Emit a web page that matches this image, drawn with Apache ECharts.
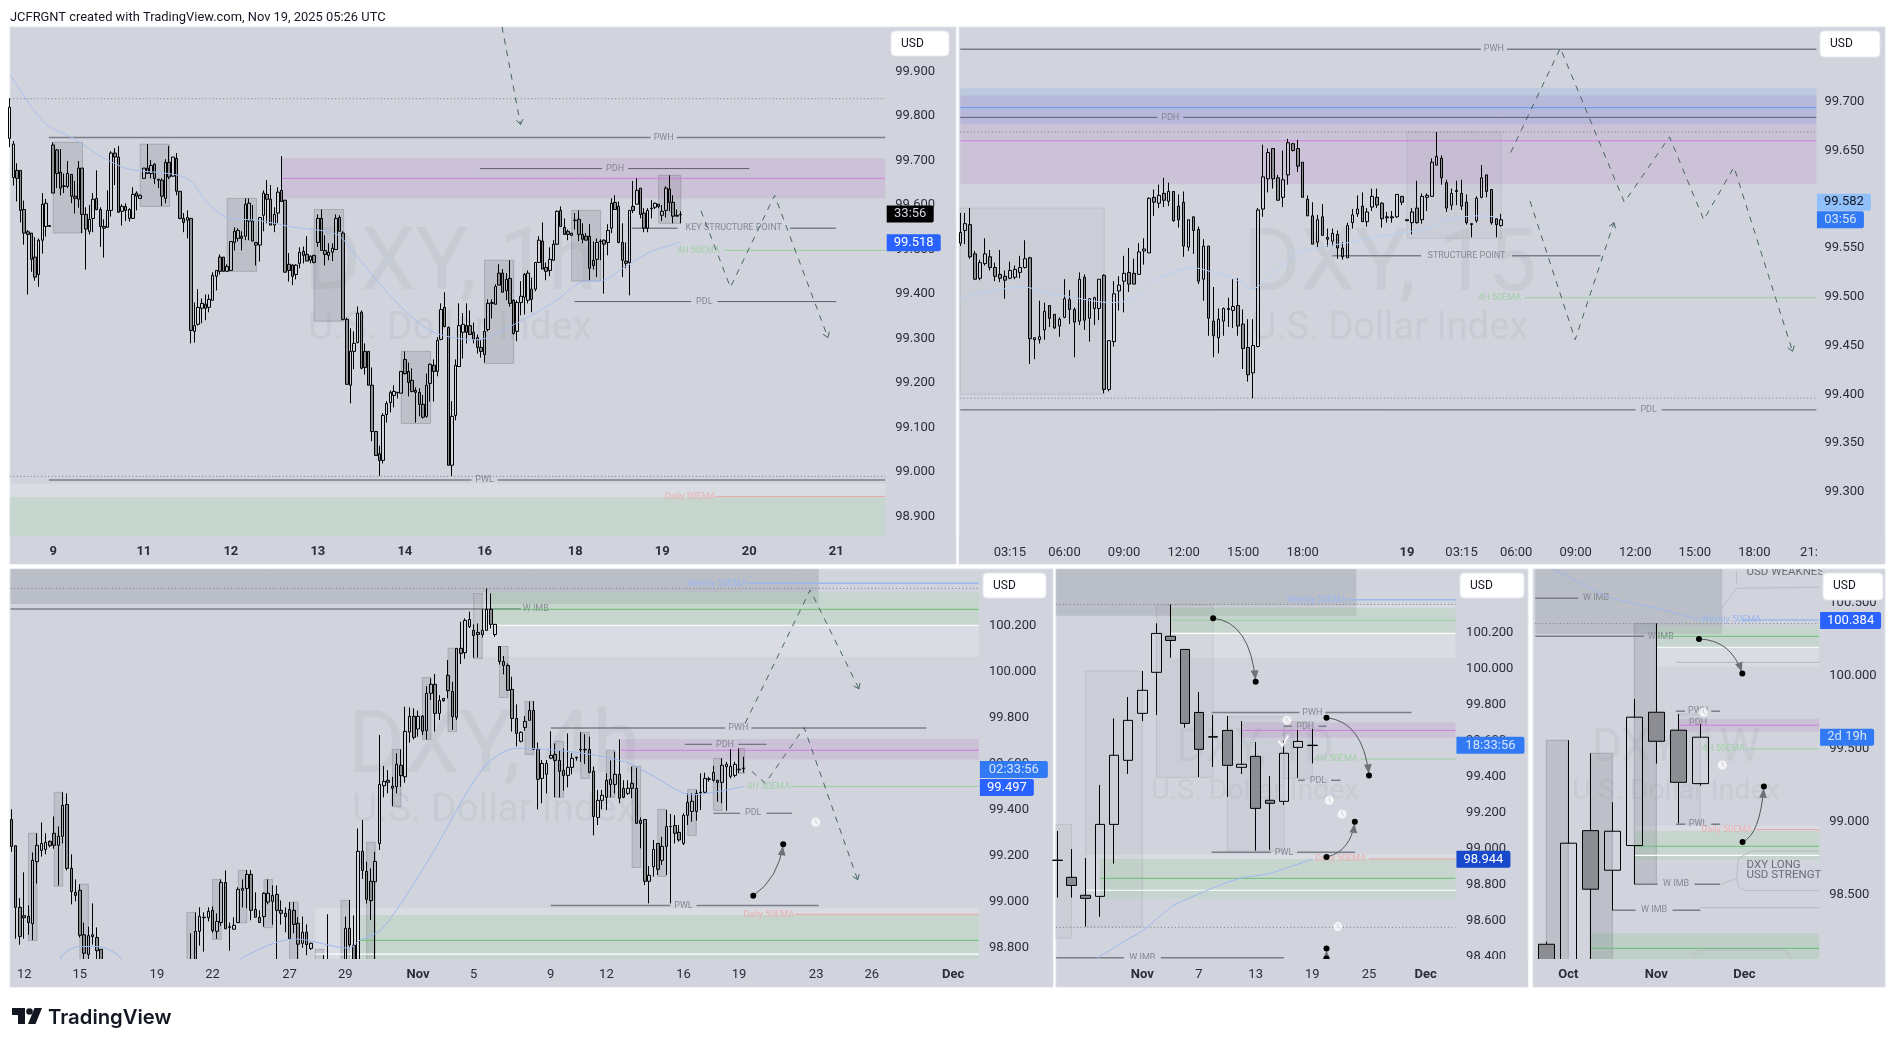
<!DOCTYPE html>
<html>
<head>
<meta charset="utf-8">
<style>html,body{margin:0;padding:0;background:#fff}#main{width:1897px;height:1047px}</style>
<script src="https://cdn.jsdelivr.net/npm/echarts@6/dist/echarts.min.js"></script>
</head>
<body>
<div id="main"></div>
<script>
// candle rows are [open, close, low, high]
const h1Bars = [[99.75,99.82,99.73,99.84],[99.662,99.737,99.644,99.744],[99.678,99.660,99.608,99.694],[99.678,99.588,99.561,99.678],[99.590,99.537,99.511,99.610],[99.540,99.534,99.399,99.544],[99.537,99.478,99.450,99.537],[99.483,99.438,99.430,99.528],[99.444,99.521,99.416,99.525],[99.521,99.602,99.491,99.627],[99.552,99.604,99.529,99.614],[99.554,99.552,99.552,99.554],[99.735,99.627,99.627,99.741],[99.724,99.671,99.638,99.726],[99.674,99.638,99.622,99.726],[99.643,99.642,99.627,99.671],[99.642,99.671,99.638,99.699],[99.669,99.620,99.604,99.669],[99.620,99.615,99.581,99.654],[99.613,99.683,99.594,99.699],[99.683,99.579,99.537,99.683],[99.579,99.546,99.455,99.595],[99.541,99.568,99.534,99.600],[99.570,99.613,99.539,99.627],[99.615,99.590,99.588,99.678],[99.590,99.552,99.506,99.595],[99.552,99.548,99.482,99.568],[99.550,99.588,99.550,99.633],[99.588,99.717,99.574,99.721],[99.717,99.708,99.645,99.728],[99.708,99.584,99.582,99.733],[99.586,99.597,99.554,99.602],[99.597,99.588,99.564,99.604],[99.570,99.590,99.563,99.593],[99.570,99.624,99.570,99.640],[99.627,99.620,99.588,99.631],[99.615,99.622,99.615,99.624],[99.660,99.683,99.660,99.683],[99.683,99.671,99.671,99.737],[99.671,99.689,99.660,99.701],[99.692,99.660,99.647,99.694],[99.658,99.656,99.638,99.658],[99.656,99.620,99.598,99.660],[99.615,99.696,99.604,99.703],[99.696,99.663,99.658,99.733],[99.665,99.708,99.663,99.708],[99.705,99.631,99.622,99.717],[99.631,99.570,99.568,99.631],[99.570,99.561,99.539,99.582],[99.566,99.572,99.525,99.588],[99.570,99.318,99.289,99.570],[99.316,99.329,99.291,99.381],[99.332,99.370,99.329,99.411],[99.368,99.379,99.334,99.390],[99.377,99.368,99.341,99.399],[99.370,99.388,99.359,99.399],[99.386,99.442,99.386,99.449],[99.440,99.453,99.408,99.453],[99.483,99.451,99.444,99.489],[99.483,99.451,99.451,99.483],[99.451,99.462,99.451,99.467],[99.453,99.518,99.453,99.518],[99.516,99.541,99.498,99.550],[99.525,99.543,99.518,99.548],[99.530,99.525,99.498,99.541],[99.530,99.602,99.521,99.615],[99.564,99.604,99.521,99.615],[99.564,99.519,99.519,99.600],[99.516,99.510,99.464,99.516],[99.510,99.572,99.473,99.572],[99.577,99.627,99.541,99.633],[99.624,99.613,99.559,99.656],[99.613,99.555,99.555,99.645],[99.555,99.579,99.539,99.595],[99.582,99.629,99.559,99.640],[99.633,99.608,99.608,99.710],[99.611,99.449,99.449,99.611],[99.467,99.453,99.428,99.492],[99.465,99.440,99.420,99.467],[99.444,99.465,99.433,99.467],[99.469,99.494,99.458,99.505],[99.496,99.487,99.469,99.507],[99.489,99.474,99.474,99.530],[99.476,99.485,99.469,99.487],[99.487,99.471,99.469,99.487],[99.516,99.570,99.506,99.579],[99.570,99.498,99.498,99.590],[99.498,99.489,99.464,99.532],[99.487,99.494,99.476,99.514],[99.494,99.503,99.474,99.514],[99.500,99.570,99.500,99.579],[99.572,99.541,99.541,99.577],[99.537,99.343,99.341,99.541],[99.343,99.197,99.197,99.347],[99.195,99.271,99.154,99.323],[99.271,99.289,99.231,99.316],[99.291,99.357,99.289,99.372],[99.359,99.233,99.231,99.363],[99.271,99.235,99.219,99.289],[99.271,99.195,99.195,99.271],[99.195,99.091,99.069,99.235],[99.091,99.037,99.037,99.091],[99.041,99.026,98.991,99.059],[99.026,99.127,99.019,99.132],[99.129,99.154,99.111,99.159],[99.156,99.179,99.134,99.183],[99.172,99.181,99.145,99.195],[99.179,99.178,99.165,99.179],[99.177,99.226,99.177,99.226],[99.253,99.221,99.219,99.271],[99.226,99.201,99.170,99.246],[99.206,99.181,99.179,99.233],[99.183,99.179,99.111,99.190],[99.179,99.152,99.125,99.188],[99.152,99.123,99.120,99.173],[99.125,99.195,99.122,99.221],[99.199,99.242,99.158,99.244],[99.240,99.226,99.158,99.253],[99.226,99.296,99.215,99.303],[99.298,99.365,99.296,99.379],[99.370,99.327,99.325,99.404],[99.325,99.015,99.015,99.327],[99.015,99.125,98.991,99.159],[99.127,99.240,99.116,99.253],[99.237,99.329,99.237,99.379],[99.314,99.332,99.255,99.357],[99.329,99.314,99.289,99.379],[99.329,99.309,99.309,99.363],[99.314,99.298,99.289,99.336],[99.302,99.280,99.266,99.309],[99.280,99.271,99.257,99.296],[99.264,99.316,99.246,99.345],[99.320,99.379,99.316,99.388],[99.381,99.379,99.345,99.388],[99.377,99.417,99.377,99.422],[99.447,99.420,99.420,99.467],[99.447,99.404,99.404,99.456],[99.408,99.433,99.386,99.447],[99.435,99.379,99.372,99.476],[99.386,99.311,99.309,99.388],[99.316,99.381,99.294,99.386],[99.381,99.395,99.352,99.429],[99.393,99.444,99.354,99.447],[99.386,99.447,99.379,99.453],[99.411,99.388,99.359,99.437],[99.411,99.471,99.406,99.471],[99.471,99.521,99.471,99.530],[99.519,99.456,99.456,99.561],[99.460,99.451,99.431,99.471],[99.453,99.478,99.440,99.505],[99.476,99.512,99.474,99.521],[99.512,99.586,99.510,99.588],[99.588,99.552,99.552,99.597],[99.550,99.534,99.534,99.570],[99.541,99.534,99.521,99.545],[99.532,99.537,99.530,99.537],[99.566,99.565,99.545,99.582],[99.568,99.534,99.519,99.588],[99.534,99.523,99.514,99.559],[99.530,99.521,99.521,99.537],[99.530,99.458,99.431,99.557],[99.476,99.464,99.455,99.518],[99.478,99.516,99.438,99.525],[99.519,99.518,99.476,99.523],[99.521,99.512,99.401,99.523],[99.516,99.543,99.487,99.557],[99.548,99.604,99.537,99.615],[99.606,99.590,99.590,99.622],[99.597,99.516,99.514,99.608],[99.516,99.476,99.438,99.559],[99.474,99.469,99.458,99.516],[99.471,99.588,99.397,99.588],[99.597,99.588,99.582,99.654],[99.602,99.633,99.602,99.660],[99.638,99.579,99.570,99.638],[99.582,99.548,99.539,99.593],[99.548,99.588,99.539,99.593],[99.593,99.592,99.570,99.611],[99.595,99.604,99.591,99.606],[99.602,99.597,99.593,99.602],[99.577,99.586,99.564,99.600],[99.588,99.638,99.572,99.642],[99.636,99.606,99.586,99.667],[99.606,99.575,99.559,99.622],[99.577,99.575,99.575,99.590],[99.579,99.578,99.559,99.586]];
const h1Ema = [[0.2,99.893],[7.5,99.804],[10.8,99.777],[17.6,99.750],[25.2,99.709],[32.8,99.681],[44.6,99.670],[49.7,99.656],[54.7,99.603],[60.7,99.570],[68.3,99.566],[78.4,99.550],[90.2,99.534],[95.3,99.489],[102.9,99.415],[109.6,99.358],[117.2,99.313],[129,99.297],[137.5,99.325],[144.3,99.354],[151,99.387],[157.8,99.427],[163.7,99.431],[169.6,99.460],[176.3,99.493],[185.1,99.517]];
const h1Zones = [[75,null,99.705,99.615,'purple'],[null,null,98.974,98.856,'light'],[null,null,98.943,98.856,'green'],[12,20.1,99.741,99.537,'box'],[36,44.1,99.737,99.597,'box'],[60,68.1,99.615,99.451,'box'],[84,92.1,99.590,99.339,'box'],[108,116.1,99.271,99.109,'box'],[131,139,99.476,99.244,'box'],[155,163,99.588,99.429,'box'],[179,185.1,99.667,99.559,'box']];
const h1Lines = [[null,null,99.839,'dotted'],[10.8,null,99.752,'grey','PWH',180.4],[75,null,99.660,'magenta'],[129.7,204,99.682,'dark','PDH',167],[171.6,227.9,99.548,'grey','KEY STRUCTURE POINT',199.7],[197,null,99.498,'green','4H 50EMA',190],[155.8,228,99.383,'dark','PDL',191.6],[null,null,98.990,'dotted'],[10.8,null,98.982,'grey','PWL',131],[195,null,98.945,'red','Daily 50EMA',187.7]];
const h1Paths = [[[135.8,100.001],[140.9,99.781]],[[190.7,99.587],[198.8,99.415],[211,99.622],[225.7,99.302]]];
const h1Tags = [[99.580,'33:56','black'],[99.515,'99.518','blue']];
const h1PriceTicks = [99.9,99.8,99.7,99.6,99.5,99.4,99.3,99.2,99.1,99.0,98.9];
const h1TimeIdx = [12,37,61,85,109,131,156,180,204,228];
const h1TimeText = ['9','11','12','13','14','16','18','19','20','21'];

const m15Bars = [[99.555,99.566,99.552,99.586],[99.568,99.575,99.554,99.586],[99.574,99.541,99.539,99.591],[99.544,99.518,99.518,99.547],[99.519,99.535,99.517,99.538],[99.534,99.544,99.532,99.560],[99.541,99.530,99.527,99.548],[99.530,99.521,99.516,99.535],[99.523,99.519,99.515,99.548],[99.521,99.517,99.498,99.527],[99.519,99.527,99.518,99.536],[99.520,99.528,99.518,99.532],[99.525,99.530,99.519,99.542],[99.530,99.539,99.529,99.558],[99.540,99.457,99.431,99.541],[99.456,99.458,99.436,99.458],[99.456,99.459,99.452,99.496],[99.466,99.485,99.456,99.494],[99.491,99.478,99.469,99.491],[99.482,99.468,99.467,99.482],[99.470,99.477,99.459,99.479],[99.479,99.498,99.478,99.518],[99.497,99.487,99.472,99.507],[99.487,99.474,99.438,99.489],[99.475,99.518,99.471,99.525],[99.520,99.476,99.466,99.523],[99.478,99.498,99.454,99.498],[99.488,99.499,99.471,99.500],[99.488,99.518,99.476,99.518],[99.522,99.405,99.401,99.523],[99.405,99.455,99.403,99.455],[99.454,99.503,99.449,99.516],[99.506,99.512,99.486,99.521],[99.516,99.524,99.484,99.542],[99.525,99.513,99.505,99.550],[99.524,99.513,99.513,99.539],[99.523,99.546,99.523,99.555],[99.547,99.549,99.533,99.560],[99.545,99.601,99.545,99.602],[99.602,99.597,99.583,99.610],[99.596,99.604,99.591,99.615],[99.606,99.599,99.592,99.622],[99.598,99.608,99.593,99.617],[99.608,99.578,99.577,99.608],[99.593,99.579,99.571,99.605],[99.597,99.552,99.541,99.608],[99.551,99.579,99.547,99.579],[99.582,99.568,99.544,99.582],[99.569,99.516,99.513,99.572],[99.518,99.552,99.496,99.559],[99.552,99.478,99.460,99.552],[99.475,99.460,99.438,99.510],[99.458,99.477,99.442,99.488],[99.475,99.488,99.460,99.489],[99.488,99.487,99.469,99.499],[99.486,99.490,99.468,99.518],[99.491,99.470,99.460,99.519],[99.472,99.447,99.426,99.487],[99.448,99.420,99.413,99.477],[99.422,99.450,99.396,99.477],[99.449,99.589,99.448,99.591],[99.590,99.623,99.582,99.656],[99.621,99.648,99.607,99.652],[99.652,99.621,99.611,99.652],[99.622,99.599,99.599,99.625],[99.602,99.620,99.592,99.650],[99.625,99.658,99.615,99.662],[99.657,99.650,99.649,99.658],[99.652,99.634,99.628,99.661],[99.638,99.602,99.602,99.638],[99.600,99.583,99.583,99.604],[99.583,99.554,99.554,99.597],[99.556,99.579,99.550,99.584],[99.582,99.563,99.563,99.595],[99.561,99.559,99.551,99.570],[99.557,99.565,99.552,99.570],[99.564,99.550,99.539,99.568],[99.550,99.541,99.538,99.556],[99.540,99.573,99.540,99.576],[99.576,99.584,99.570,99.590],[99.585,99.590,99.582,99.604],[99.593,99.577,99.577,99.607],[99.577,99.587,99.572,99.591],[99.592,99.603,99.588,99.611],[99.602,99.594,99.591,99.611],[99.596,99.580,99.571,99.597],[99.582,99.581,99.576,99.587],[99.582,99.581,99.576,99.588],[99.582,99.605,99.581,99.605],[99.603,99.597,99.594,99.603],[99.579,99.578,99.578,99.579],[99.576,99.587,99.564,99.591],[99.591,99.576,99.575,99.619],[99.579,99.603,99.575,99.606],[99.602,99.604,99.588,99.606],[99.603,99.638,99.603,99.642],[99.635,99.644,99.635,99.669],[99.642,99.622,99.615,99.645],[99.617,99.591,99.587,99.620],[99.594,99.606,99.589,99.611],[99.609,99.608,99.594,99.619],[99.606,99.593,99.589,99.620],[99.597,99.576,99.574,99.605],[99.575,99.574,99.561,99.575],[99.578,99.601,99.576,99.603],[99.602,99.622,99.601,99.635],[99.625,99.608,99.602,99.625],[99.610,99.576,99.574,99.610],[99.580,99.574,99.561,99.580],[99.573,99.579,99.572,99.585]];
const m15Ema = [[0,99.496],[2.6,99.502],[7.4,99.507],[12.8,99.510],[17.1,99.505],[23.1,99.499],[30.4,99.494],[35.2,99.499],[40.1,99.519],[46.7,99.530],[51,99.525],[55.8,99.517],[58.8,99.508],[61.9,99.519],[67.9,99.544],[71.5,99.550],[77.6,99.555],[83.6,99.561],[89.7,99.566],[94.5,99.571],[98.1,99.579],[104.2,99.583],[108.4,99.582]];
const m15Zones = [[null,null,99.714,99.677,'blue'],[null,null,99.7065,99.6154,'purple'],[null,29,99.591,99.400,'faint'],[90,109,99.669,99.560,'faint']];
const m15Lines = [[null,null,99.754,'grey','PWH',107.5],[null,null,99.694,'brightBlue'],[null,null,99.684,'dark','PDH',42.3],[null,null,99.669,'dotted'],[null,null,99.660,'magenta'],[75,129,99.542,'grey','STRUCTURE POINT',102],[113.6,null,99.499,'green','4H 50EMA',108.7],[null,null,99.396,'dotted'],[null,null,99.384,'dark','PDL',138.7]];
const m15Paths = [[[110.9,99.648],[120.9,99.755],[133.8,99.597],[142.9,99.664],[149.8,99.579],[155.9,99.633],[167.7,99.444]],[[114.8,99.598],[123.9,99.456],[131.7,99.576]]];
const m15Tags = [[99.597,'99.582','pale'],[99.579,'03:56','mid']];
const m15PriceTicks = [99.7,99.65,99.6,99.55,99.5,99.45,99.4,99.35,99.3];
const m15TimeIdx = [10,21,33,45,57,69,90,101,112,124,136,148,160,171];
const m15TimeText = ['03:15','06:00','09:00','12:00','15:00','18:00','19','03:15','06:00','09:00','12:00','15:00','18:00','21:'];

const h4Bars = [[99.358,99.241,99.218,99.402],[99.244,98.977,98.841,99.244],[98.977,98.851,98.815,99.017],[98.941,98.932,98.841,99.129],[98.938,98.911,98.858,98.986],[98.906,99.181,98.835,99.215],[99.175,99.246,99.080,99.298],[99.224,99.254,99.197,99.345],[99.228,99.259,99.207,99.298],[99.263,99.244,99.237,99.267],[99.298,99.246,99.231,99.371],[99.246,99.285,99.072,99.328],[99.285,99.419,99.254,99.476],[99.423,99.146,99.137,99.471],[99.146,99.046,98.990,99.207],[99.042,99.029,99.003,99.098],[99.051,98.856,98.846,99.077],[98.858,98.778,98.74,98.911],[98.773,98.854,98.74,98.893],[98.858,98.850,98.815,98.994],[98.846,98.789,98.74,98.890],[98.795,98.72,98.70,98.795],
null,null,null,null,null,null,null,null,null,null,null,null,null,null,null,null,null,null,null,null,
[98.72,98.70,98.68,98.864],[98.72,98.873,98.68,98.955],[98.873,98.938,98.811,98.977],[98.934,98.932,98.785,98.955],[98.932,98.960,98.916,98.977],[98.964,98.876,98.867,98.981],[98.873,98.916,98.841,98.951],[98.911,99.085,98.897,99.098],[99.085,98.884,98.884,99.137],[98.893,98.890,98.789,98.911],[98.882,98.899,98.882,98.934],[98.911,99.055,98.911,99.064],[99.051,99.059,98.977,99.098],[99.059,99.120,98.973,99.139],[99.120,98.964,98.921,99.139],[98.968,98.934,98.934,99.042],[98.934,98.911,98.911,98.964],[98.937,99.038,98.893,99.042],[99.000,99.038,98.990,99.098],[99.003,99.029,98.902,99.072],[99.033,98.964,98.72,99.072],[98.964,98.951,98.902,99.007],[98.951,98.937,98.869,98.977],[98.968,98.841,98.841,99.0],[98.964,98.903,98.864,99.0],[98.908,98.817,98.73,98.934],[98.821,98.869,98.801,98.937],[98.869,98.815,98.770,98.903],[98.799,98.821,98.792,98.824],
null,null,[98.72,98.70,98.68,98.770],[98.72,98.70,98.68,98.947],null,null,null,
[98.72,98.886,98.68,98.937],[98.886,98.814,98.806,99.009],[98.812,98.72,98.68,98.942],[98.72,99.220,98.68,99.319],
[99.220,99.137,99.100,99.356],[99.133,99.012,98.994,99.175],[99.090,99.006,98.922,99.146],[99.088,99.176,98.72,99.218],[99.254,99.510,99.226,99.724],[99.504,99.523,99.454,99.590],[99.528,99.519,99.471,99.572],[99.503,99.493,99.416,99.543],[99.500,99.598,99.471,99.645],[99.593,99.548,99.500,99.662],[99.543,99.740,99.517,99.847],[99.737,99.805,99.691,99.844],[99.805,99.714,99.705,99.840],[99.750,99.805,99.717,99.830],[99.806,99.741,99.724,99.811],[99.744,99.905,99.705,99.936],[99.905,99.944,99.876,99.970],[99.944,99.818,99.739,99.989],[99.818,99.874,99.789,99.897],[99.883,99.873,99.869,99.883],[99.983,99.916,99.883,100.049],[99.913,99.804,99.746,99.955],[99.801,100.100,99.789,100.100],[100.100,100.078,100.032,100.215],[100.081,100.221,100.055,100.230],[100.194,100.225,100.188,100.259],[100.178,100.156,100.059,100.204],[100.169,100.160,100.061,100.208],[100.160,100.178,100.147,100.270],[100.178,100.269,100.178,100.360],[100.269,100.204,100.186,100.338],[100.160,100.204,100.150,100.204],[100.108,100.043,100.030,100.108],[100.043,100.026,99.987,100.067],[100.026,99.918,99.918,100.035],[99.922,99.796,99.739,99.977],[99.796,99.731,99.675,99.857],[99.697,99.736,99.692,99.740],[99.757,99.783,99.743,99.806],[99.788,99.831,99.788,99.869],[99.831,99.662,99.662,99.871],[99.662,99.532,99.402,99.692],[99.536,99.601,99.428,99.616],[99.554,99.601,99.471,99.616],[99.624,99.636,99.619,99.740],[99.640,99.614,99.454,99.688],[99.614,99.567,99.454,99.659],[99.571,99.549,99.483,99.666],[99.549,99.584,99.497,99.731],[99.584,99.623,99.554,99.645],[99.628,99.625,99.613,99.630],[99.662,99.660,99.608,99.736],[99.662,99.660,99.598,99.728],[99.662,99.562,99.558,99.717],[99.567,99.371,99.289,99.588],[99.367,99.441,99.334,99.486],[99.441,99.463,99.402,99.486],[99.454,99.528,99.399,99.558],[99.510,99.532,99.454,99.614],[99.510,99.554,99.471,99.652],[99.554,99.450,99.428,99.705],[99.493,99.454,99.450,99.528],[99.471,99.493,99.464,99.528],[99.515,99.493,99.450,99.587],[99.493,99.341,99.341,99.584],[99.354,99.341,99.233,99.367],[99.358,99.090,99.074,99.358],[99.090,99.116,98.994,99.156],[99.153,99.228,99.110,99.269],[99.254,99.142,99.117,99.254],[99.181,99.241,99.161,99.283],[99.241,99.327,99.117,99.399],[99.328,99.327,98.994,99.382],[99.332,99.298,99.254,99.377],[99.302,99.269,99.262,99.334],[99.254,99.376,99.247,99.385],[99.376,99.432,99.334,99.471],[99.393,99.437,99.348,99.471],[99.393,99.471,99.353,99.486],[99.476,99.473,99.399,99.558],[99.476,99.536,99.471,99.561],[99.534,99.532,99.522,99.543],[99.528,99.562,99.522,99.590],[99.528,99.519,99.435,99.529],[99.519,99.593,99.428,99.623],[99.587,99.598,99.396,99.608],[99.545,99.588,99.536,99.662],[99.549,99.597,99.541,99.608],[99.576,99.574,99.558,99.666],[99.581,99.579,99.561,99.630]];
const h4Ema = [[11.5,98.70],[11.5,98.756],[15.9,98.807],[20.1,98.807],[25.6,98.756],[26,98.70],[53,98.70],[53.8,98.756],[66.3,98.840],[78.9,98.800],[81.2,98.832],[86.7,98.886],[97.7,99.19],[110.2,99.58],[118.1,99.667],[130.6,99.652],[143.2,99.609],[150.2,99.544],[158.9,99.465],[171,99.501]];
const h4Zones = [[null,188.6,100.444,100.292,'shade'],[108,null,100.343,100.064,'light'],[112,null,100.343,100.2,'green'],[142.4,null,99.707,99.618,'purple'],[71,null,98.973,98.70,'light'],[81.2,null,98.944,98.70,'green'],[4,6,99.298,98.833,'box'],[10,12,99.476,99.068,'box'],[16,18,99.077,98.70,'box'],[41,43,98.955,98.70,'box'],[47,49,99.098,98.838,'box'],[53,55,99.137,98.91,'box'],[59,61,99.098,98.889,'box'],[65,67,99.0,98.70,'box'],[71,73,98.795,98.70,'box'],[77,79,99.007,98.70,'box'],[83,85,99.259,98.70,'box'],[89,91,99.662,99.413,'box'],[96,98,99.974,99.705,'box'],[102,104,100.1,99.739,'box'],[108,110,100.338,100.056,'box'],[114,116,100.108,99.887,'box'],[120,122,99.87,99.64,'box'],[127,129,99.697,99.454,'box'],[133,135,99.736,99.536,'box'],[139,141,99.658,99.454,'box'],[145,147,99.588,99.15,'box'],[151,153,99.402,99.111,'box'],[158,160,99.489,99.289,'box'],[164,166,99.623,99.397,'box'],[170,171.3,99.666,99.558,'box']];
const h4Lines = [[172,null,100.382,'blue','Weekly 50EMA',164.8],[null,null,100.36,'dotted'],[null,119,100.271,'grey','W IMB',122.5],[112,null,100.269,'greenStrong'],[112,null,100.2,'white'],[126,213.7,99.755,'grey','PWH',169.8],[157.3,176.4,99.684,'dark','PDH',166.7],[142.4,null,99.658,'magenta'],[182,null,99.501,'green','4H 50EMA',176.9],[164,182.4,99.385,'dark','PDL',173.3],[126,188.6,98.985,'grey','PWL',157],[183,null,98.947,'red','Daily 50EMA',176.9],[81.2,null,98.834,'greenStrong'],[71,null,98.774,'white']];
const h4Paths = [[[171.4,99.775],[186.6,100.353],[198,99.924]],[[173,99.566],[176.1,99.515],[185.2,99.756],[197.7,99.096]]];
const h4Curves = [[173.3,99.027,179.2,99.103,180.3,99.251]];
const h4Clocks = [[187.9,99.346]];
const h4Tags = [[99.575,'02:33:56','mid'],[99.497,'99.497','blue']];
const h4PriceTicks = [100.2,100,99.8,99.6,99.4,99.2,99.0,98.8];
const h4TimeIdx = [3,16,34,47,65,78,95,108,126,139,157,170,188,201,220];
const h4TimeText = ['12','15','19','22','27','29','Nov','5','9','12','16','19','23','26','Dec'];

const d1Bars = [[98.936,98.935,98.728,99.098],[98.841,98.796,98.728,98.998],[98.741,98.724,98.567,98.948],[98.735,99.135,98.622,99.354],[99.135,99.519,98.917,99.724],[99.491,99.713,99.415,99.843],[99.752,99.880,99.709,99.987],[99.980,100.196,99.743,100.252],[100.180,100.157,100.061,100.357],[100.107,99.696,99.672,100.107],[99.757,99.552,99.398,99.870],[99.622,99.620,99.454,99.743],[99.657,99.463,99.287,99.737],[99.452,99.469,99.415,99.709],[99.513,99.224,98.989,99.593],[99.269,99.252,98.993,99.404],[99.263,99.530,99.243,99.598],[99.563,99.596,99.394,99.659],[99.575,99.573,99.474,99.665]];
const d1Ema = [[2.8,98.391],[4.9,98.493],[6.1,98.548],[8,98.674],[8.9,98.711],[10.8,98.776],[12.9,98.835],[15,98.863],[18,98.943]];
const d1Zones = [[null,21.1,100.554,100.294,'shade'],[8,null,100.354,100.061,'light'],[8,null,100.339,100.196,'green'],[13,null,99.702,99.617,'purple'],[2,null,98.969,98.724,'light'],[3,null,98.943,98.724,'green'],[7,11,100.354,99.396,'faint'],[12,16,99.733,98.987,'faint'],[16,18,99.706,99.39,'faint'],[2,6,99.987,98.567,'faint'],[null,1,99.135,98.502,'faint']];
const d1Lines = [[20.5,null,100.383,'blue','Weekly 50EMA',18.3],[null,null,100.357,'dotted'],[8,null,100.269,'green'],[8,null,100.196,'white'],[10.9,25,99.756,'grey','PWH',18],[16,19,99.68,'grey','PDH',17.5],[13,null,99.657,'magenta'],[21.4,null,99.498,'green','4H 50EMA',19.7],[17,20,99.38,'grey','PDL',18.4],[10.9,21,98.98,'grey','PWL',16],[22,null,98.943,'red','Daily 50EMA',20],[3,null,98.835,'greenStrong'],[2,null,98.769,'white'],[null,null,98.563,'dotted'],[null,16,98.394,'grey','W IMB',6]];
const d1Curves = [[11,100.28,13.6,100.261,14,99.928],[19,99.728,21.6,99.706,22,99.406],[19,98.954,20.7,98.983,21,99.15],[19,98.39,19,98.42,19,98.446]];
const d1Clocks = [[16.2,99.713],[19.2,99.269],[20.1,99.191],[19.8,98.567]];
const d1Checks = [[[15.6,99.60],[15.9,99.57],[16.3,99.63]]];
const d1Tags = [[99.574,'18:33:56','mid'],[98.941,'98.944','deep']];
const d1PriceTicks = [100.2,100,99.8,99.6,99.4,99.2,99.0,98.8,98.6,98.4];
const d1TimeIdx = [6,10,14,18,22,26];
const d1TimeText = ['Nov','7','13','19','25','Dec'];

const w1Bars = [[98.16,97.95,97.9,98.178],[97.95,98.852,97.9,99.557],[98.938,98.537,97.95,99.468],[98.667,98.934,98.393,99.132],[98.836,99.715,98.571,99.84],[99.749,99.55,99.397,100.358],[99.626,99.269,98.989,99.737],[99.26,99.578,99.247,99.667]];
const w1Ema = [[0.3,100.73],[2,100.598],[3,100.53],[4.9,100.466],[7,100.381]];
const w1Zones = [[null,8,100.73,100.285,'shade'],[5,null,100.342,100.062,'light'],[5,null,100.342,100.194,'green'],[6,null,99.703,99.616,'purple'],[4,null,98.97,98.726,'light'],[4,null,98.938,98.733,'green'],[2,null,98.235,98.0,'green'],[4,5,100.356,98.571,'box'],[0,1,99.557,98.0,'box'],[2,3,99.468,98.0,'box'],[6,7,99.737,98.982,'faint']];
const w1Lines = [[null,1.45,100.53,'grey','W IMB',2.26],[8.9,null,100.381,'blue','Weekly 50EMA',8.4],[null,null,100.356,'dotted'],[null,4.45,100.269,'grey','W IMB',5.2],[5,null,100.269,'greenStrong'],[5,null,100.194,'white'],[5.9,null,100.091,'pale'],[5.9,7.9,99.756,'grey','PWH',6.9],[6.9,6.9,99.68,'grey','PDH',6.9],[6,null,99.66,'magenta'],[9.1,null,99.498,'green','4H 50EMA',8.05],[5.9,7.9,98.982,'grey','PWL',6.9],[9.5,null,98.945,'red','Daily 50EMA',8.2],[4,null,98.831,'greenStrong'],[4,null,98.769,'white'],[4,7.9,98.571,'grey','W IMB',5.9],[3,7,98.393,'grey','W IMB',4.9],[7,null,98.411,'pale'],[2,null,98.132,'greenStrong']];
const w1Outlines = [[[7.9,100.45],[8.65,100.598],[12.4,100.605]],[[8.65,100.712],[8.65,100.62]],[[12.4,98.799],[9.33,98.799],[8.73,98.749],[8.65,98.612],[7.97,98.571]],[[8.65,98.612],[8.73,98.555],[9.03,98.527],[12.4,98.527]],[[6.68,98.059],[6.76,98.098],[7.06,98.121],[10.85,98.121],[11.15,98.059]]];
const w1Notes = [[9.1,100.708,'USD WEAKNESS'],[9.1,98.701,'DXY LONG'],[9.1,98.632,'USD STRENGTH']];
const w1Curves = [[6.94,100.251,8.4,100.244,8.91,100.014],[8.92,98.861,9.71,98.909,9.89,99.24]];
const w1Clocks = [[7.14,99.749],[8,99.388]];
const w1Tags = [[100.377,'100.384','blue'],[99.578,'2d 19h','mid']];
const w1PriceTicks = [100.5,100,99.5,99,98.5];
const w1TimeIdx = [1,5,9];
const w1TimeText = ['Oct','Nov','Dec'];

const FONT = 'Roboto, "Liberation Sans", sans-serif';
const PANEL_BG = '#d1d4dc';
const DASH_COLOR = '#466464';
const zoneStyles = {
  box: {fill: 'rgba(120,123,134,0.22)', stroke: 'rgba(120,123,134,0.4)'},
  faint: {fill: 'rgba(120,123,134,0.06)', stroke: 'rgba(120,123,134,0.18)'},
  shade: {fill: 'rgba(120,123,134,0.25)'},
  purple: {fill: 'rgba(156,39,176,0.1)'},
  blue: {fill: 'rgba(66,133,244,0.14)'},
  green: {fill: 'rgba(76,175,80,0.14)'},
  light: {fill: 'rgba(255,255,255,0.2)'}
};
const lineStyles = {
  grey: {stroke: '#7b7e88', lineWidth: 1.5, text: '#868993'},
  dark: {stroke: '#5d606b', lineWidth: 1, text: '#868993'},
  pale: {stroke: '#b4b7c0', lineWidth: 1, text: '#868993'},
  dotted: {stroke: '#787b86', lineWidth: 1, lineDash: [1, 2.5]},
  green: {stroke: '#9ccfa2', lineWidth: 1, text: '#a2cfa8'},
  greenStrong: {stroke: '#6cbf74', lineWidth: 1, text: '#868993'},
  red: {stroke: '#eda3a3', lineWidth: 1, text: '#eab0b0'},
  blue: {stroke: '#9bb8ee', lineWidth: 1.5, text: '#9bb8ee'},
  brightBlue: {stroke: '#5b9cf6', lineWidth: 1},
  magenta: {stroke: '#cf7fdc', lineWidth: 1},
  white: {stroke: '#ffffff', lineWidth: 1.2}
};
const tagStyles = {
  black: {bg: '#000000', fg: '#d1d4dc'},
  blue: {bg: '#2962ff', fg: '#ffffff'},
  deep: {bg: '#1848cc', fg: '#ffffff'},
  mid: {bg: '#3179f5', fg: '#d6e4fb'},
  pale: {bg: '#90bff9', fg: '#131722'}
};

const grids = [], xAxes = [], yAxes = [], series = [];

function addPanel(cfg) {
  const g = grids.length;
  const catAxis = xAxes.length, valAxis = catAxis + 1;
  grids.push({left: cfg.left, top: cfg.top, width: cfg.width, height: cfg.height, containLabel: false});
  const names = new Array(cfg.n).fill('');
  cfg.timeIdx.forEach((idx, i) => {
    const bold = cfg.boldAll || /[A-Za-z]/.test(cfg.timeText[i]) || cfg.boldText === cfg.timeText[i];
    names[idx] = bold ? '{b|' + cfg.timeText[i] + '}' : cfg.timeText[i];
  });
  xAxes.push({
    type: 'category', gridIndex: g, data: names, boundaryGap: true, z: 7,
    axisLine: {show: false}, axisTick: {show: false}, splitLine: {show: false},
    axisLabel: {
      interval: 0, margin: 9, color: '#2a2e39', fontFamily: FONT, fontSize: 13,
      rich: {b: {fontWeight: 'bold', color: '#2a2e39', fontFamily: FONT, fontSize: 13}}
    }
  });
  xAxes.push({type: 'value', gridIndex: g, show: false, min: -0.5, max: cfg.n - 0.5, splitLine: {show: false}});
  yAxes.push({
    type: 'value', gridIndex: g, position: 'right', min: cfg.yMin, max: cfg.yMax, scale: true,
    axisLine: {show: false}, axisTick: {show: false}, splitLine: {show: false},
    axisLabel: {
      customValues: cfg.ticks, margin: cfg.labelMargin, color: '#2a2e39', fontFamily: FONT, fontSize: 13,
      formatter: v => v.toFixed(3)
    }
  });
  const base = {xAxisIndex: valAxis, yAxisIndex: g, coordinateSystem: 'cartesian2d', silent: true, animation: false};
  const sx = cfg.start, ex = cfg.end;

  series.push(Object.assign({}, base, {
    type: 'custom', z: 1, clip: true, encode: {x: [0, 2], y: [1, 3]},
    data: cfg.zones.map(z => [z[0] === null ? sx : z[0], z[2], z[1] === null ? ex : z[1], z[3]]),
    renderItem(params, api) {
      const a = api.coord([api.value(0), api.value(1)]), b = api.coord([api.value(2), api.value(3)]);
      const st = zoneStyles[cfg.zones[params.dataIndex][4]];
      return {type: 'rect', shape: {x: a[0], y: Math.min(a[1], b[1]), width: b[0] - a[0], height: Math.abs(b[1] - a[1])},
        style: {fill: st.fill, stroke: st.stroke || null, lineWidth: 1}};
    }
  }));

  series.push(Object.assign({}, base, {
    type: 'custom', z: 2, clip: true, encode: {x: [0, 2], y: [1, 3]},
    data: cfg.lines.map(l => [l[0] === null ? sx : l[0], l[2], l[1] === null ? ex : l[1], l[2]]),
    renderItem(params, api) {
      const row = cfg.lines[params.dataIndex], st = lineStyles[row[3]];
      const a = api.coord([api.value(0), api.value(1)]), b = api.coord([api.value(2), api.value(3)]);
      const kids = [];
      const seg = (x1, x2) => { if (x2 > x1) kids.push({type: 'line', shape: {x1, y1: a[1], x2, y2: a[1]},
        style: {stroke: st.stroke, lineWidth: st.lineWidth, lineDash: st.lineDash || null}}); };
      if (row[4]) {
        const lx = api.coord([row[5], row[2]])[0], half = row[4].length * 2.7 + 5;
        if (lx > a[0] && lx < b[0]) { seg(a[0], lx - half); seg(lx + half, b[0]); } else { seg(a[0], b[0]); }
        kids.push({type: 'text', style: {text: row[4], x: lx, y: a[1], fill: st.text, font: '9px ' + FONT, align: 'center', verticalAlign: 'middle'}});
      } else { seg(a[0], b[0]); }
      return {type: 'group', children: kids};
    }
  }));

  const candle = {
    type: 'candlestick', xAxisIndex: catAxis, yAxisIndex: g, z: 4, silent: true, animation: false, clip: true,
    barWidth: cfg.barWidth,
    data: cfg.bars.map(b => b || ['-', '-', '-', '-']),
    itemStyle: {color: 'rgba(0,0,0,0)', color0: '#8b8d93', borderColor: '#000', borderColor0: '#000', borderColorDoji: '#000', borderWidth: 1}
  };
  series.push(candle);

  series.push(Object.assign({}, base, {
    type: 'line', z: 5, data: cfg.ema, showSymbol: false, symbol: 'none', smooth: 0.3, clip: true,
    lineStyle: {color: cfg.emaColor, width: 1}
  }));

  if (cfg.outlines) series.push(Object.assign({}, base, {
    type: 'custom', z: 3, clip: true, data: cfg.outlines.map((p, i) => [p[0][0], p[0][1], i]),
    renderItem(params, api) {
      return {type: 'polyline', shape: {points: cfg.outlines[params.dataIndex].map(p => api.coord(p))},
        style: {stroke: '#b9bcc5', lineWidth: 1, fill: null}};
    }
  }));
  if (cfg.notes) series.push(Object.assign({}, base, {
    type: 'custom', z: 3, clip: true, data: cfg.notes.map(n => [n[0], n[1]]),
    renderItem(params, api) {
      const p = api.coord([api.value(0), api.value(1)]);
      return {type: 'text', style: {text: cfg.notes[params.dataIndex][2], x: p[0], y: p[1], fill: '#6a6d78', font: '11.5px ' + FONT, verticalAlign: 'middle'}};
    }
  }));

  if (cfg.paths) series.push(Object.assign({}, base, {
    type: 'custom', z: 6, clip: true, data: cfg.paths.map(p => [p[0][0], p[0][1]]),
    renderItem(params, api) {
      const pts = cfg.paths[params.dataIndex].map(p => api.coord(p));
      const e = pts[pts.length - 1], f = pts[pts.length - 2];
      const ang = Math.atan2(e[1] - f[1], e[0] - f[0]), s = 6;
      const wing = d => [e[0] - s * Math.cos(ang + d), e[1] - s * Math.sin(ang + d)];
      return {type: 'group', children: [
        {type: 'polyline', shape: {points: pts}, style: {stroke: DASH_COLOR, lineWidth: 1, lineDash: [6, 6], fill: null}},
        {type: 'polyline', shape: {points: [wing(0.6), e, wing(-0.6)]}, style: {stroke: DASH_COLOR, lineWidth: 1, fill: null}}
      ]};
    }
  }));

  if (cfg.curves) series.push(Object.assign({}, base, {
    type: 'custom', z: 6, clip: true, data: cfg.curves.map(c => [c[0], c[1]]),
    renderItem(params, api) {
      const c = cfg.curves[params.dataIndex];
      const a = api.coord([c[0], c[1]]), m = api.coord([c[2], c[3]]), e = api.coord([c[4], c[5]]);
      const ang = Math.atan2(e[1] - m[1], e[0] - m[0]);
      const tip = [e[0] - 2 * Math.cos(ang), e[1] - 2 * Math.sin(ang)];
      const back = d => [tip[0] - 10 * Math.cos(ang + d), tip[1] - 10 * Math.sin(ang + d)];
      return {type: 'group', children: [
        {type: 'bezierCurve', shape: {x1: a[0], y1: a[1], cpx1: m[0], cpy1: m[1], x2: e[0], y2: e[1]}, style: {stroke: '#55585f', lineWidth: 1, fill: null}},
        {type: 'polygon', shape: {points: [tip, back(0.4), back(-0.4)]}, style: {fill: '#6d7077'}},
        {type: 'circle', shape: {cx: a[0], cy: a[1], r: 3}, style: {fill: '#000'}},
        {type: 'circle', shape: {cx: e[0], cy: e[1], r: 3}, style: {fill: '#000'}}
      ]};
    }
  }));

  if (cfg.clocks) series.push(Object.assign({}, base, {
    type: 'custom', z: 6, clip: true, data: cfg.clocks,
    renderItem(params, api) {
      const p = api.coord([api.value(0), api.value(1)]);
      return {type: 'group', children: [
        {type: 'circle', shape: {cx: p[0], cy: p[1], r: 4.5}, style: {fill: 'rgba(255,255,255,0.75)'}},
        {type: 'polyline', shape: {points: [[p[0], p[1] - 3], [p[0], p[1]], [p[0] + 2, p[1] + 2]]}, style: {stroke: '#c0c3cb', lineWidth: 0.8, fill: null}}
      ]};
    }
  }));
  if (cfg.checks) series.push(Object.assign({}, base, {
    type: 'custom', z: 6, clip: true, data: cfg.checks.map(p => [p[0][0], p[0][1]]),
    renderItem(params, api) {
      return {type: 'polyline', shape: {points: cfg.checks[params.dataIndex].map(p => api.coord(p))},
        style: {stroke: 'rgba(255,255,255,0.85)', lineWidth: 2, fill: null}};
    }
  }));

  series.push(Object.assign({}, base, {
    type: 'custom', z: 9, clip: false, data: cfg.tags.map(t => [ex, t[0]]),
    renderItem(params, api) {
      const t = cfg.tags[params.dataIndex], st = tagStyles[t[2]];
      const p = api.coord([api.value(0), api.value(1)]);
      const w = t[1].length * 7 + 12;
      const x = p[0] + cfg.tagOffset;
      return {type: 'group', children: [
        {type: 'rect', shape: {x, y: p[1] - 8.5, width: w, height: 17, r: [0, 2, 2, 0]}, style: {fill: st.bg}},
        {type: 'text', style: {text: t[1], x: x + w / 2, y: p[1], fill: st.fg, font: '13px ' + FONT, align: 'center', verticalAlign: 'middle'}}
      ]};
    }
  }));
}

addPanel({left: 7.9, top: 27, width: 877.3, height: 509, n: 242, start: 0, end: 241.5, yMin: 98.856, yMax: 100.0003,
  ticks: h1PriceTicks, timeIdx: h1TimeIdx, timeText: h1TimeText, boldAll: true, bars: h1Bars, barWidth: 3, ema: h1Ema, emaColor: '#a9c1f0',
  zones: h1Zones, lines: h1Lines, paths: h1Paths, tags: h1Tags, labelMargin: 10, tagOffset: 1.5});
addPanel({left: 957.8, top: 27, width: 858.6, height: 510, n: 173, start: 0, end: 172.5, yMin: 99.2536, yMax: 99.7767,
  ticks: m15PriceTicks, timeIdx: m15TimeIdx, timeText: m15TimeText, boldText: '19', bars: m15Bars, barWidth: 3, ema: m15Ema, emaColor: '#b8d0f5',
  zones: m15Zones, lines: m15Lines, paths: m15Paths, tags: m15Tags, labelMargin: 8, tagOffset: 0.5});
addPanel({left: 9.2, top: 569, width: 971.8, height: 390, n: 227, start: -0.2, end: 226, yMin: 98.753, yMax: 100.444,
  ticks: h4PriceTicks, timeIdx: h4TimeIdx, timeText: h4TimeText, bars: h4Bars, barWidth: 3, ema: h4Ema, emaColor: '#9db8ee',
  zones: h4Zones, lines: h4Lines, paths: h4Paths, curves: h4Curves, clocks: h4Clocks, tags: h4Tags, labelMargin: 8, tagOffset: 1});
addPanel({left: 1050.2, top: 569, width: 410.9, height: 390, n: 29, start: -0.1, end: 28.1, yMin: 98.387, yMax: 100.554,
  ticks: d1PriceTicks, timeIdx: d1TimeIdx, timeText: d1TimeText, bars: d1Bars, barWidth: 10, ema: d1Ema, emaColor: '#9db8ee',
  zones: d1Zones, lines: d1Lines, curves: d1Curves, clocks: d1Clocks, checks: d1Checks, tags: d1Tags, labelMargin: 5, tagOffset: 1});
addPanel({left: 1535.3, top: 569, width: 286, height: 390, n: 13, start: -0.5, end: 12.4, yMin: 98.059, yMax: 100.73,
  ticks: w1PriceTicks, timeIdx: w1TimeIdx, timeText: w1TimeText, bars: w1Bars, barWidth: 16, ema: w1Ema, emaColor: '#9db8ee',
  zones: w1Zones, lines: w1Lines, outlines: w1Outlines, notes: w1Notes, curves: w1Curves, clocks: w1Clocks, tags: w1Tags, labelMargin: 8, tagOffset: 1});

const WM = 'rgba(120,123,134,0.1)';
const elements = [];
[[10, 27, 946, 537], [959, 27, 926, 537], [10, 569, 1043, 418], [1056, 569, 472, 418], [1533, 569, 352, 418]].forEach(b => {
  elements.push({type: 'rect', z: -10, silent: true, shape: {x: b[0], y: b[1], width: b[2], height: b[3]}, style: {fill: PANEL_BG, stroke: '#e0e3eb', lineWidth: 1}});
});
// time strips sit over candles that run below the pane, and under the time labels
[[10, 536, 946, 28], [959, 537, 926, 27], [10, 959, 1043, 28], [1056, 959, 472, 28], [1533, 959, 352, 28]].forEach(b => {
  elements.push({type: 'rect', z: 5, silent: true, shape: {x: b[0] + 0.5, y: b[1], width: b[2] - 1, height: b[3] - 0.5}, style: {fill: PANEL_BG}});
});
[[450, 267, 'DXY, 1h', 88, 329, 39], [1390, 268, 'DXY, 15', 88, 329, 38], [494, 750, 'DXY, 4h', 88, 811, 39], [1255, 749, 'DXY, 1D', 46, 792, 28.5], [1676, 749, 'DXY, 1W', 46, 792, 28.5]].forEach(w => {
  elements.push({type: 'text', z: -9, silent: true, style: {text: w[2], x: w[0], y: w[1], fill: WM, font: w[3] + 'px ' + FONT, align: 'center', verticalAlign: 'middle'}});
  elements.push({type: 'text', z: -9, silent: true, style: {text: 'U.S. Dollar Index', x: w[0], y: w[4], fill: WM, font: w[5] + 'px ' + FONT, align: 'center', verticalAlign: 'middle'}});
});
[[891, 31, 58, 25], [1820, 31, 60, 26], [983, 573, 63, 25], [1460, 573, 64, 25], [1823, 573, 60, 27]].forEach(b => {
  elements.push({type: 'rect', z: 20, silent: true, shape: {x: b[0], y: b[1], width: b[2], height: b[3], r: 4}, style: {fill: '#ffffff', stroke: '#e6e8ee', lineWidth: 1}});
  elements.push({type: 'text', z: 21, silent: true, style: {text: 'USD', x: b[0] + 10, y: b[1] + 12.5, fill: '#131722', font: '12px ' + FONT, verticalAlign: 'middle'}});
});
elements.push({type: 'text', silent: true, style: {text: 'JCFRGNT created with TradingView.com, Nov 19, 2025 05:26 UTC', x: 10, y: 17.5, fill: '#131722', font: '12.9px ' + FONT, verticalAlign: 'middle'}});
elements.push({type: 'polygon', silent: true, shape: {points: [[12, 1008], [25, 1008], [25, 1024], [18, 1024], [18, 1015], [12, 1015]]}, style: {fill: '#131722'}});
elements.push({type: 'circle', silent: true, shape: {cx: 29.5, cy: 1011.5, r: 3.3}, style: {fill: '#131722'}});
elements.push({type: 'polygon', silent: true, shape: {points: [[34.5, 1008], [42, 1008], [35.5, 1024], [28, 1024]]}, style: {fill: '#131722'}});
elements.push({type: 'text', silent: true, style: {text: 'TradingView', x: 48, y: 1017.5, fill: '#131722', font: '600 20.3px Inter, ' + FONT, verticalAlign: 'middle'}});

const chart = echarts.init(document.getElementById('main'));
chart.setOption({
  backgroundColor: '#ffffff',
  animation: false,
  grid: grids,
  xAxis: xAxes,
  yAxis: yAxes,
  graphic: {elements: elements},
  series: series
});
</script>
</body>
</html>
